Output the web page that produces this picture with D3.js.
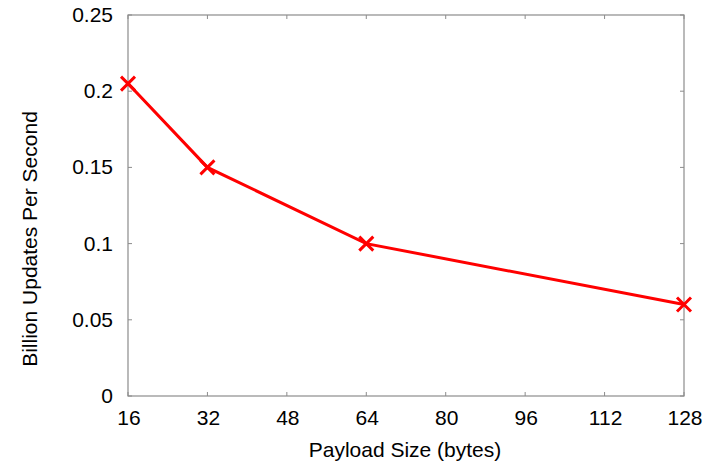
<!DOCTYPE html>
<html>
<head>
<meta charset="utf-8">
<script src="https://cdn.jsdelivr.net/npm/d3@7"></script>
<style>
  body { margin: 0; background: #fff; }
  text { font-family: "Liberation Sans", Arial, sans-serif; fill: #000; }
</style>
</head>
<body>
<div id="chart"></div>
<script>
const w = 714;
const h = 464;

// data
const payloadSizes = [16, 32, 64, 128];
const updatesPerSec = [0.205, 0.15, 0.1, 0.06];
const xTicks = [16, 32, 48, 64, 80, 96, 112, 128];
const yTicks = [0, 0.05, 0.1, 0.15, 0.2, 0.25];

const m = { left: 128, right: 30, top: 15, bottom: 68 };
const fs = "21px";

const svg = d3.select("#chart").append("svg")
  .attr("width", w)
  .attr("height", h);

const x = d3.scaleLinear().domain([16, 128]).range([m.left, w - m.right]);
const y = d3.scaleLinear().domain([0, 0.25]).range([h - m.bottom, m.top]);

const frame = "#8c8c8c";
const tickLen = 4;

// tick marks on all four sides (inward)
const g = svg.append("g");
xTicks.forEach(t => {
  g.append("line").attr("x1", x(t)).attr("x2", x(t))
    .attr("y1", y(0)).attr("y2", y(0) - tickLen).attr("stroke", frame);
  g.append("line").attr("x1", x(t)).attr("x2", x(t))
    .attr("y1", y(0.25)).attr("y2", y(0.25) + tickLen).attr("stroke", frame);
  g.append("text").attr("x", x(t) + 1).attr("y", y(0) + 29)
    .attr("text-anchor", "middle").style("font-size", fs).text(t);
});
yTicks.forEach(t => {
  g.append("line").attr("x1", x(16)).attr("x2", x(16) + tickLen)
    .attr("y1", y(t)).attr("y2", y(t)).attr("stroke", frame);
  g.append("line").attr("x1", x(128)).attr("x2", x(128) - tickLen)
    .attr("y1", y(t)).attr("y2", y(t)).attr("stroke", frame);
  g.append("text").attr("x", x(16) - 15).attr("y", y(t) + 7)
    .attr("text-anchor", "end").style("font-size", fs).text(t);
});

svg.append("rect")
  .attr("x", x(16)).attr("y", y(0.25))
  .attr("width", x(128) - x(16)).attr("height", y(0) - y(0.25))
  .attr("fill", "none").attr("stroke", frame).attr("stroke-width", 1.2);

const pts = payloadSizes.map((d, i) => [d, updatesPerSec[i]]);

svg.append("path")
  .datum(pts)
  .attr("fill", "none")
  .attr("stroke", "#ff0000")
  .attr("stroke-width", 3)
  .attr("d", d3.line().x(d => x(d[0])).y(d => y(d[1])));

const s = 7;
svg.append("g").selectAll("path.mark")
  .data(pts).enter().append("path")
  .attr("fill", "none")
  .attr("stroke", "#ff0000")
  .attr("stroke-width", 3)
  .attr("d", d => {
    const cx = x(d[0]), cy = y(d[1]);
    return `M${cx - s},${cy - s}L${cx + s},${cy + s}M${cx - s},${cy + s}L${cx + s},${cy - s}`;
  });

// axis titles
svg.append("text")
  .attr("x", 405).attr("y", 457)
  .attr("text-anchor", "middle").style("font-size", fs)
  .text("Payload Size (bytes)");

svg.append("text")
  .attr("transform", "translate(37,239) rotate(-90)")
  .attr("text-anchor", "middle").style("font-size", fs)
  .text("Billion Updates Per Second");
</script>
</body>
</html>
